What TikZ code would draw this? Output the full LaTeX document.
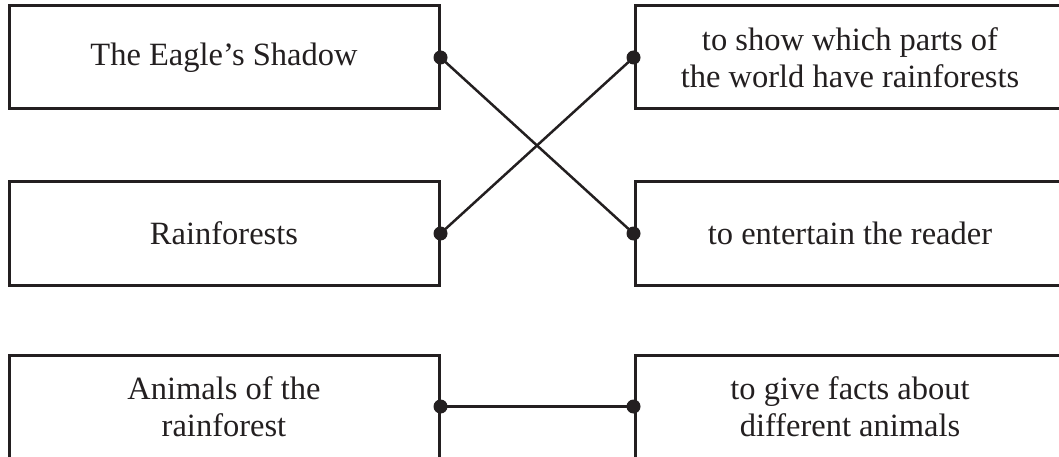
\documentclass[tikz,border=0pt]{standalone}
\usepackage{fontspec}
\setmainfont{Liberation Serif}
\definecolor{ink}{HTML}{231F20}
\begin{document}
\begin{tikzpicture}[x=1pt,y=-1pt,
  box/.style={draw=ink,line width=3pt,rectangle,minimum width=430pt,minimum height=103pt,inner sep=0pt,
    text=ink,align=center,font=\fontsize{32.5}{37}\selectfont},
  conn/.style={draw=ink,line width=2.5pt},
  dotmark/.style={fill=ink}]
\useasboundingbox (0,0) rectangle (1059,457);
\clip (0,0) rectangle (1059,457);
\node[box] (l1) at (224,57.5) {The Eagle’s Shadow};
\node[box] (l2) at (224,233.5) {Rainforests};
\node[box] (l3) at (224,406.5) {Animals of the\\rainforest};
\node[box] (r1) at (850,57.5) {to show which parts of\\the world have rainforests};
\node[box] (r2) at (850,233.5) {to entertain the reader};
\node[box] (r3) at (850,406.5) {to give facts about\\different animals};
\draw[conn] (l1.east) -- (r2.west);
\draw[conn] (l2.east) -- (r1.west);
\draw[conn] (l3.east) -- (r3.west);
\foreach \n in {l1,l2,l3}{\fill[dotmark] (\n.east) circle (7pt);}
\foreach \n in {r1,r2,r3}{\fill[dotmark] (\n.west) circle (7pt);}
\end{tikzpicture}
\end{document}
